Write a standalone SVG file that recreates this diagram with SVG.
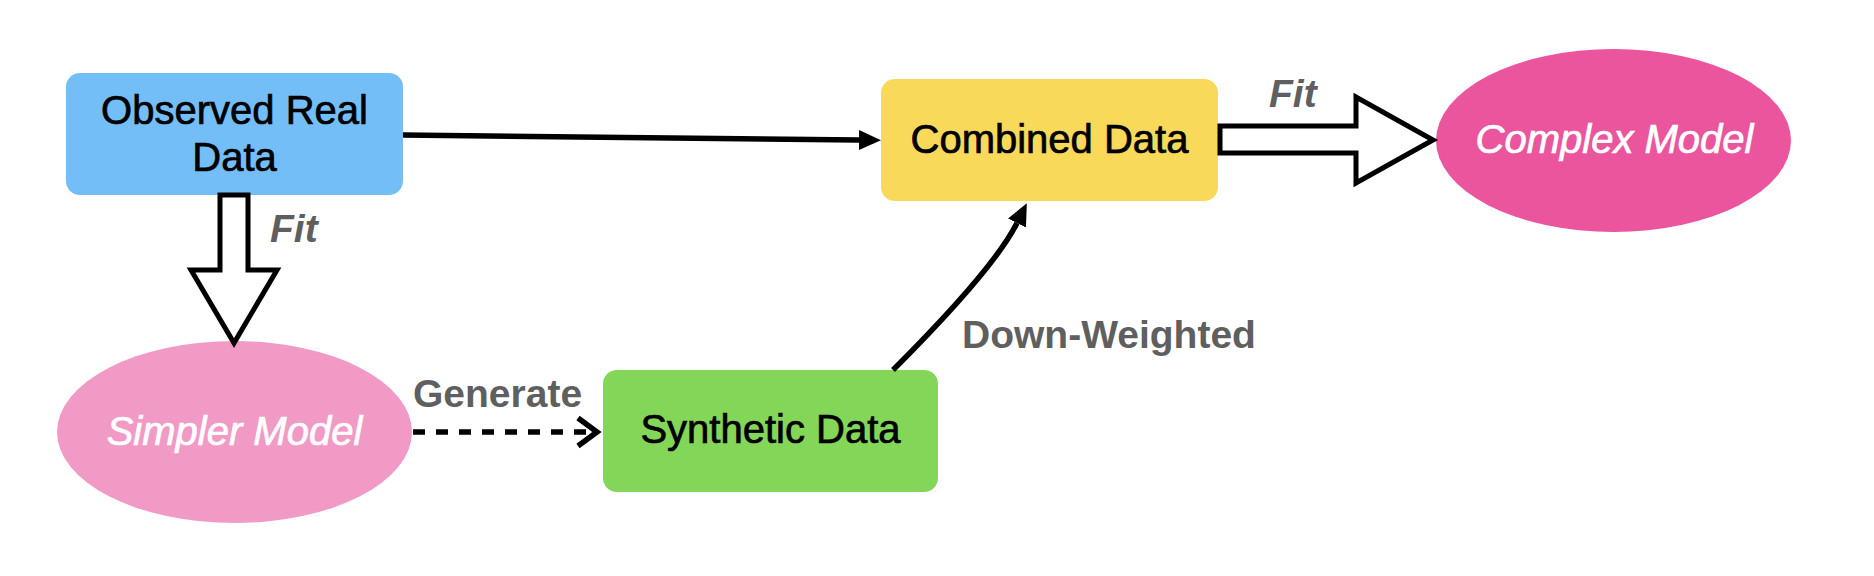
<svg xmlns="http://www.w3.org/2000/svg" width="1874" height="576" viewBox="0 0 1874 576">
<style>
.lbl{font-family:"Liberation Sans",Arial,sans-serif;font-size:40px;fill:#000;stroke:#000;stroke-width:0.7px}
.ell{font-family:"Liberation Sans",Arial,sans-serif;font-size:40px;font-style:italic;fill:#fff;stroke:#fff;stroke-width:0.7px}
.edge{font-family:"Liberation Sans",Arial,sans-serif;font-size:39px;font-weight:bold;fill:#5f5f5f}
.line{fill:none;stroke:#000;stroke-width:5.5}
.fat{fill:#fff;stroke:#000;stroke-width:5;stroke-linejoin:miter}
</style>
<defs>
<marker id="block" markerUnits="userSpaceOnUse" markerWidth="22" markerHeight="20" refX="0" refY="10" orient="auto">
<path d="M0,0 L22,10 L0,20 Z" fill="#000"/>
</marker>
<marker id="open" markerUnits="userSpaceOnUse" markerWidth="30" markerHeight="36" refX="22" refY="18" orient="auto">
<path d="M3,4 L22,18 L3,32" fill="none" stroke="#000" stroke-width="5.5" stroke-dasharray="none"/>
</marker>
</defs>
<rect width="1874" height="576" fill="#fff"/>
<g id="node-observed">
<rect x="66" y="73" width="337" height="122" rx="14" fill="#74BEF7"/>
<text class="lbl" x="234.5" y="124" text-anchor="middle">Observed Real</text>
<text class="lbl" x="234.5" y="171" text-anchor="middle">Data</text>
</g>
<g id="node-combined">
<rect x="881" y="79" width="337" height="122" rx="14" fill="#F8D95A"/>
<text class="lbl" x="1049.5" y="153" text-anchor="middle">Combined Data</text>
</g>
<g id="node-synthetic">
<rect x="603" y="370" width="335" height="122" rx="14" fill="#83D657"/>
<text class="lbl" x="770.5" y="443" text-anchor="middle">Synthetic Data</text>
</g>
<g id="node-simpler">
<ellipse cx="234.5" cy="432" rx="177.5" ry="91" fill="#F19AC6"/>
<text class="ell" x="234.5" y="445" text-anchor="middle">Simpler Model</text>
</g>
<g id="node-complex">
<ellipse cx="1613.5" cy="140.5" rx="177.5" ry="91.5" fill="#EA559D"/>
<text class="ell" x="1614.5" y="153" text-anchor="middle">Complex Model</text>
</g>
<g id="connectors">
<path class="line" d="M403,135 L859,140" marker-end="url(#block)"/>
<path class="line" d="M893,370 Q994,269 1017,223" marker-end="url(#block)"/>
<path class="line" d="M413,432 L597,432" stroke-dasharray="12 11" marker-end="url(#open)"/>
<polygon class="fat" points="220,195 248,195 248,270 277,270 234,343 191,270 220,270"/>
<polygon class="fat" points="1220,126 1356,126 1356,97 1433,140 1356,183 1356,153 1220,153"/>
<text class="edge" x="270" y="242" font-style="italic">Fit</text>
<text class="edge" x="1269" y="107" font-style="italic">Fit</text>
<text class="edge" x="413" y="407">Generate</text>
<text class="edge" x="962" y="348">Down-Weighted</text>
</g>
</svg>
